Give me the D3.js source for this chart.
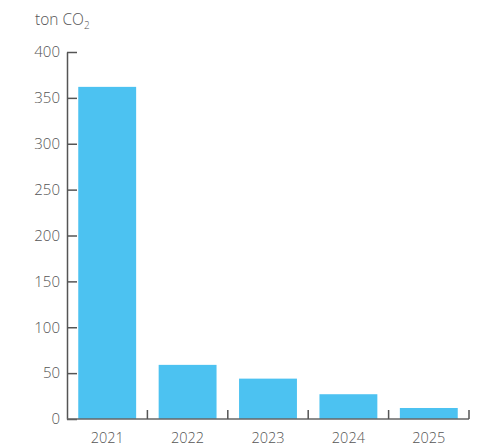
<!DOCTYPE html>
<html>
<head>
  <meta charset="utf-8">
  <title>ton CO2</title>
  <script src="https://d3js.org/d3.v7.min.js"></script>
  <style>
    body { margin: 0; background: #fff; }
    text { font-family: "Open Sans", sans-serif; fill: #555; font-weight: 300; }
  </style>
</head>
<body>
<script>

var years = ["2021", "2022", "2023", "2024", "2025"];
var values = [362, 59, 44, 27, 12];
var yTicks = [0, 50, 100, 150, 200, 250, 300, 350, 400];

var w = 486, h = 447;
var mLeft = 67, mRight = 469, mTop = 52, mBottom = 419;

var svg = d3.select("body")
  .append("svg")
  .attr("width", w)
  .attr("height", h);

var xScale = d3.scaleBand()
  .domain(years)
  .range([mLeft, mRight])
  .paddingInner(0.28)
  .paddingOuter(0.14);

var yScale = d3.scaleLinear()
  .domain([0, 400])
  .range([mBottom, mTop]);

// bars
svg.selectAll(".bar")
  .data(values)
  .enter()
  .append("rect")
  .attr("class", "bar")
  .attr("x", function(d, i){ return xScale(years[i]); })
  .attr("width", xScale.bandwidth())
  .attr("y", function(d){ return yScale(d); })
  .attr("height", function(d){ return mBottom - yScale(d); })
  .attr("fill", "#4cc2f1");

// y axis, ticks point inward
var yAxis = d3.axisLeft(yScale)
  .tickValues(yTicks)
  .tickSizeInner(-10)
  .tickSizeOuter(0)
  .tickPadding(7);

var gY = svg.append("g")
  .attr("transform", "translate(" + mLeft + ",0)")
  .call(yAxis);
gY.select(".domain").attr("stroke", "#555").attr("stroke-width", 1.5);
gY.selectAll(".tick line").attr("stroke", "#555").attr("stroke-width", 1.5);
gY.selectAll(".tick text")
  .style("font-size", "15px")
  .style("font-family", "'Open Sans', sans-serif")
  .style("font-weight", 300)
  .attr("fill", "#555");

// x axis: baseline with ticks at band edges
var edges = years.map(function(y){ return xScale(y) - xScale.step() * 0.14; });
edges.push(mRight);

svg.append("line")
  .attr("x1", mLeft).attr("x2", mRight)
  .attr("y1", mBottom).attr("y2", mBottom)
  .attr("stroke", "#666").attr("stroke-width", 1.5);

svg.selectAll(".xtick")
  .data(edges.slice(1))
  .enter()
  .append("line")
  .attr("class", "xtick")
  .attr("x1", function(d){ return d; })
  .attr("x2", function(d){ return d; })
  .attr("y1", mBottom)
  .attr("y2", mBottom - 9)
  .attr("stroke", "#555")
  .attr("stroke-width", 1.5);

svg.selectAll(".xlabel")
  .data(years)
  .enter()
  .append("text")
  .attr("class", "xlabel")
  .attr("x", function(d){ return xScale(d) + xScale.bandwidth() / 2; })
  .attr("y", 443)
  .attr("text-anchor", "middle")
  .style("font-size", "14.5px")
  .text(function(d){ return d; });

// unit title
var title = svg.append("text")
  .attr("x", 35)
  .attr("y", 25)
  .style("font-size", "15.5px");
title.append("tspan").text("ton CO");
title.append("tspan")
  .attr("dy", 4)
  .style("font-size", "10px")
  .text("2");

</script>
</body>
</html>
